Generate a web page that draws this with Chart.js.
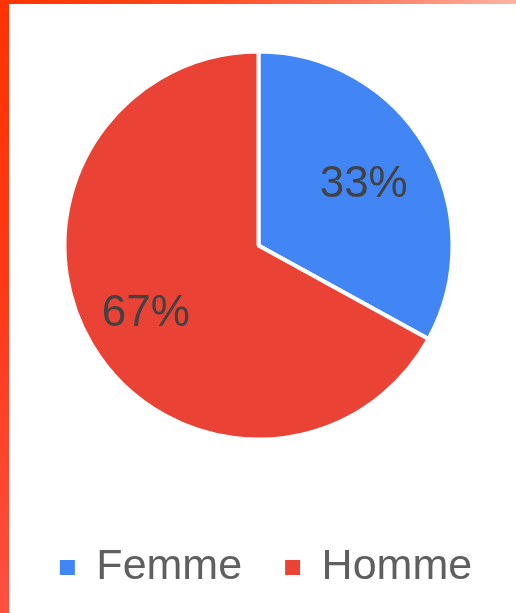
<!DOCTYPE html>
<html>
<head>
<meta charset="utf-8">
<script src="https://cdn.jsdelivr.net/npm/chart.js@4/dist/chart.umd.min.js"></script>
<style>
  html, body { margin: 0; padding: 0; background: #fff; overflow: hidden; }
  body { width: 516px; height: 613px; position: relative; }
  #topBar { position: absolute; left: 0; top: 0; width: 516px; height: 4px; z-index: 2;
    background: linear-gradient(to right, #ff3300 0%, #ff4a1f 40%, #ff7a5c 70%, #ffb3a3 100%); }
  #leftBar { position: absolute; left: 0; top: 0; width: 9px; height: 613px; z-index: 2;
    background: linear-gradient(to bottom, #ff3300 0%, #ff3a1a 50%, #ff5040 100%); }
  #wrap { position: absolute; left: 5.5px; top: -12.5px; width: 520px; height: 611px; }
</style>
</head>
<body>
<div id="topBar"></div>
<div id="leftBar"></div>
<div id="wrap"><canvas id="pieChart"></canvas></div>
<script>
const labels = ["Femme", "Homme"];
const values = [33, 67];
const colors = ["#4285f4", "#ea4335"];

// pourcentages dessinés dans chaque part
const pctLabels = {
  id: "pctLabels",
  afterDatasetsDraw(chart, args, opts) {
    const ctx = chart.ctx;
    const meta = chart.getDatasetMeta(0);
    const total = values.reduce((a, b) => a + b, 0);
    ctx.save();
    ctx.font = "44px 'Liberation Sans', Arial, sans-serif";
    ctx.fillStyle = "#424242";
    ctx.textAlign = "center";
    ctx.textBaseline = "middle";
    meta.data.forEach((arc, i) => {
      const p = arc.getProps(["x", "y", "startAngle", "endAngle", "outerRadius"], true);
      const mid = (p.startAngle + p.endAngle) / 2;
      const r = p.outerRadius * opts.radius[i];
      const txt = Math.round(values[i] / total * 100) + "%";
      ctx.fillText(txt, p.x + Math.cos(mid) * r, p.y + Math.sin(mid) * r + 2);
    });
    ctx.restore();
  },
};

const ctx = document.getElementById("pieChart").getContext("2d");
new Chart(ctx, {
  type: "pie",
  data: {
    labels: labels,
    datasets: [
      {
        data: values,
        backgroundColor: colors,
        borderColor: "#ffffff",
        borderWidth: 4,
        radius: 194,
      },
    ],
  },
  options: {
    responsive: true,
    maintainAspectRatio: false,
    animation: false,
    layout: { padding: 0 },
    plugins: {
      tooltip: { enabled: false },
      pctLabels: { radius: [0.63, 0.675] },
      // petite boîte vide à droite pour décaler la légende par rapport au camembert
      title: {
        display: true,
        position: "right",
        fullSize: false,
        text: " ",
        font: { size: 15, lineHeight: 1 },
        padding: 0,
      },
      legend: {
        position: "bottom",
        align: "center",
        labels: {
          boxWidth: 15,
          boxHeight: 15,
          padding: 43,
          color: "#5f5f5f",
          font: { size: 43, family: "'Liberation Sans', Arial, sans-serif" },
          generateLabels(chart) {
            const items = Chart.overrides.pie.plugins.legend.labels.generateLabels(chart);
            items.forEach((it) => { it.lineWidth = 0; });
            return items;
          },
        },
      },
    },
  },
  plugins: [pctLabels],
});
</script>
</body>
</html>
